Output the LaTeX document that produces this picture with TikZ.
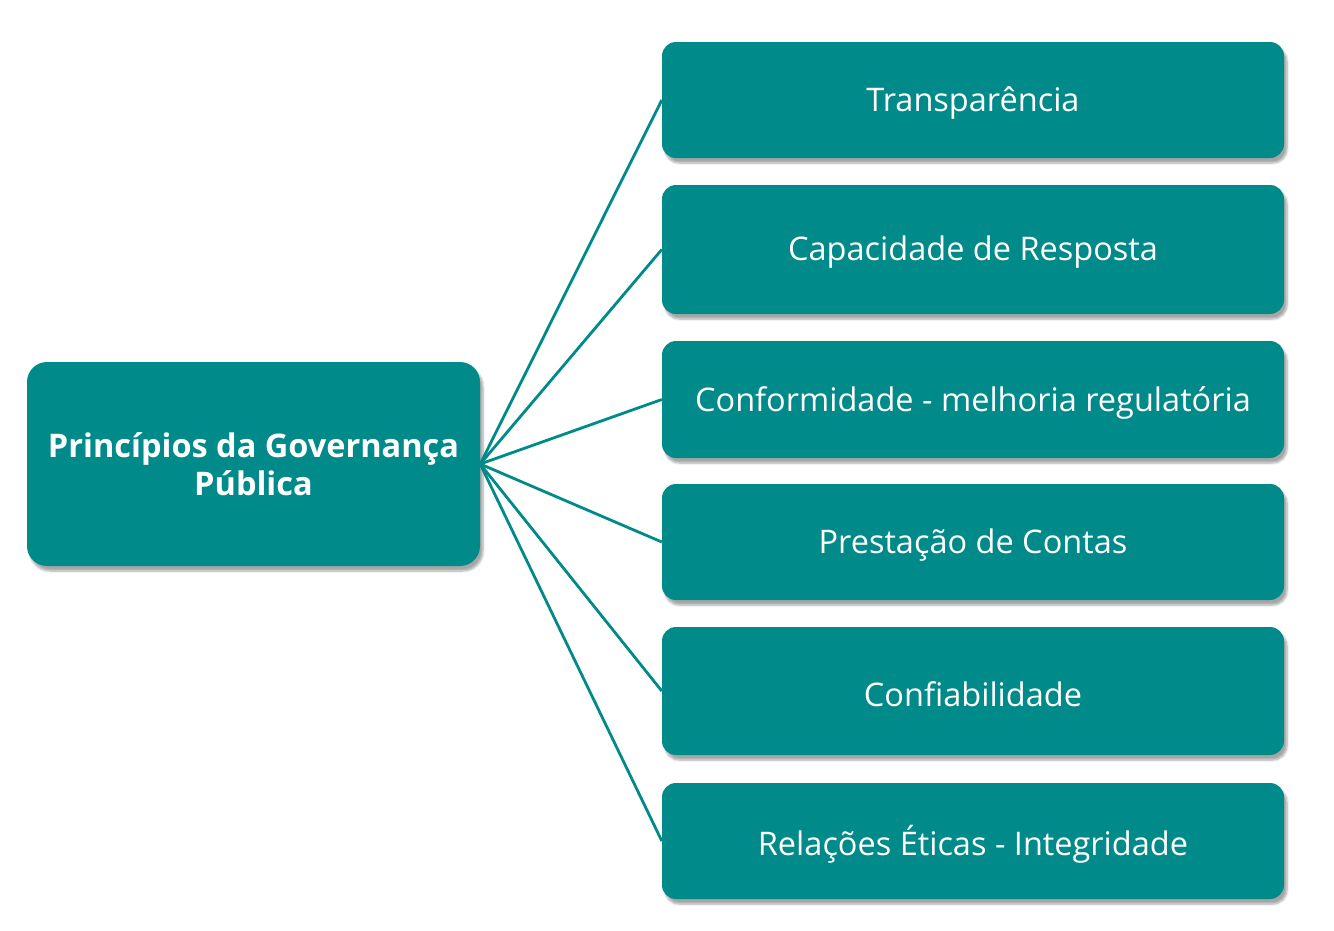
\documentclass[tikz,border=0pt]{standalone}
\usepackage{fontspec}
\setmainfont{Open Sans}
\usetikzlibrary{shadows.blur}
\definecolor{teal1}{HTML}{008A8A}
\newcommand\lowertxt[1]{\raisebox{-3pt}[\height][\depth]{#1}}
\begin{document}
\begin{tikzpicture}[x=1pt,y=-1pt,
  box/.style={draw=none, fill=teal1, rounded corners=14pt, text=white,
    blur shadow={shadow xshift=3pt, shadow yshift=-5pt, shadow blur steps=6, shadow opacity=35},
    inner sep=0pt, align=center},
  rbox/.style={box, minimum width=622pt, font=\fontsize{32.5}{38}\selectfont},
  link/.style={draw=teal1, line width=2.8pt}]
\useasboundingbox (0,0) rectangle (1334,930);
\node[box, rounded corners=20pt, minimum width=453pt, minimum height=204pt,
  font=\fontsize{32.5}{40}\selectfont\bfseries] (root) at (253.5,464) {Princípios da Governança\\[-2pt]Pública};
\node[rbox, minimum height=116pt] (b1) at (973,100) {\lowertxt{Transparência}};
\node[rbox, minimum height=129pt] (b2) at (973,249.5) {\lowertxt{Capacidade de Resposta}};
\node[rbox, minimum height=117pt] (b3) at (973,399.5) {\lowertxt{Conformidade - melhoria regulatória}};
\node[rbox, minimum height=116pt] (b4) at (973,542) {\lowertxt{Prestação de Contas}};
\node[rbox, minimum height=128pt] (b5) at (973,691) {\lowertxt{Confiabilidade}};
\node[rbox, minimum height=116pt] (b6) at (973,841) {\lowertxt{Relações Éticas - Integridade}};
\foreach \n in {b1,b2,b3,b4,b5,b6}
  \draw[link] (root.east) -- (\n.west);
\end{tikzpicture}
\end{document}
